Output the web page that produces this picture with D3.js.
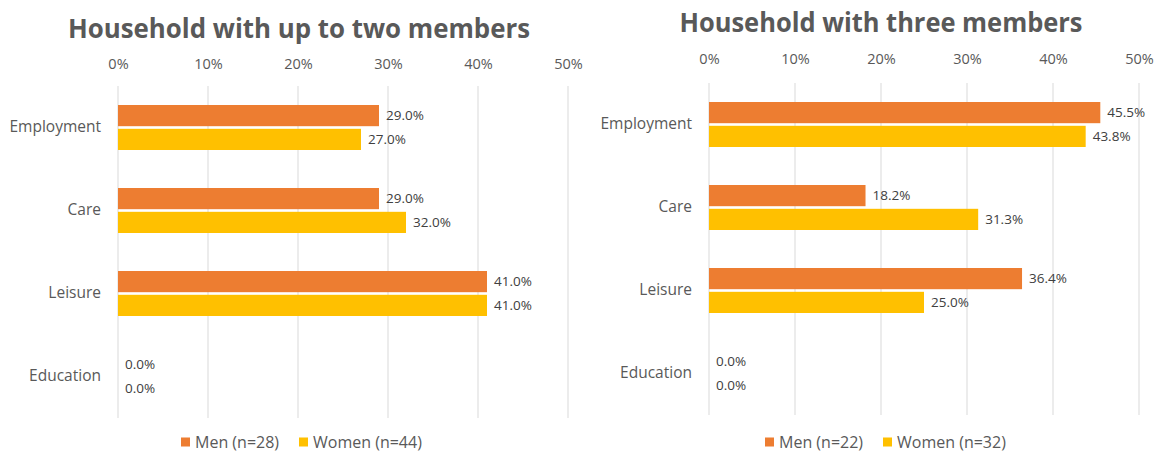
<!DOCTYPE html>
<html>
<head>
<meta charset="utf-8">
<script src="https://cdn.jsdelivr.net/npm/d3@7"></script>
<style>
  html, body { margin: 0; padding: 0; background: #fff; }
  svg { display: block; font-family: "Open Sans", "Noto Sans", sans-serif; }
</style>
</head>
<body>
<svg id="chart" width="1161" height="452"></svg>
<script>
// Shared categories and axis ticks
const categories = ["Employment", "Care", "Leisure", "Education"];
const tickValues = [0, 10, 20, 30, 40, 50];
const seriesNames = ["Men", "Women"];
const seriesColors = ["#ED7D31", "#FFC000"];

// Households with up to two members
const titleTwo = "Household with up to two members";
const menTwo = [29.0, 29.0, 41.0, 0.0];
const womenTwo = [27.0, 32.0, 41.0, 0.0];
const legendTwo = ["Men (n=28)", "Women (n=44)"];

// Households with three members
const titleThree = "Household with three members";
const menThree = [45.5, 18.2, 36.4, 0.0];
const womenThree = [43.8, 31.3, 25.0, 0.0];
const legendThree = ["Men (n=22)", "Women (n=32)"];

const svg = d3.select("#chart");

function drawPanel(opt) {
  const g = svg.append("g");
  const x = d3.scaleLinear().domain([0, 50]).range([opt.x0, opt.x1]);
  const y = d3.scaleBand().domain(categories).range([opt.top, opt.bottom]);
  const inner = d3.scaleBand().domain(seriesNames).range([y.bandwidth() / 2 - 22.5, y.bandwidth() / 2 + 22.5]).paddingInner(0.11);

  // Title
  g.append("text")
    .attr("x", opt.titleX).attr("y", opt.titleY)
    .attr("text-anchor", "middle")
    .attr("font-size", 26).attr("font-weight", 700)
    .attr("fill", "#595959")
    .attr("textLength", opt.titleLen).attr("lengthAdjust", "spacingAndGlyphs")
    .text(opt.title);

  // Vertical gridlines
  g.append("g").selectAll("line").data(tickValues).join("line")
    .attr("x1", d => x(d)).attr("x2", d => x(d))
    .attr("y1", opt.top).attr("y2", opt.bottom)
    .attr("stroke", "#D9D9D9").attr("stroke-width", 1);

  // Top axis labels
  const axis = d3.axisTop(x).tickValues(tickValues).tickFormat(d => d + "%").tickSize(0).tickPadding(0);
  const ag = g.append("g").attr("transform", `translate(0,${opt.axisY})`).call(axis);
  ag.select(".domain").remove();
  ag.selectAll("text").attr("font-size", 14.5).attr("fill", "#595959")
    .attr("font-family", "Open Sans, sans-serif").attr("dy", "0.35em");

  // Category labels
  const yAxis = d3.axisLeft(y).tickSize(0).tickPadding(0);
  const yg = g.append("g").attr("transform", `translate(${opt.labelX},0)`).call(yAxis);
  yg.select(".domain").remove();
  yg.selectAll("text").attr("font-size", 15.5).attr("fill", "#595959")
    .attr("font-family", "Open Sans, sans-serif");

  // Bars and value labels
  const rows = categories.map((c, i) => [
    { cat: c, s: "Men", v: opt.men[i], color: seriesColors[0] },
    { cat: c, s: "Women", v: opt.women[i], color: seriesColors[1] }
  ]).flat();

  g.append("g").selectAll("rect").data(rows).join("rect")
    .attr("x", x(0))
    .attr("y", d => y(d.cat) + inner(d.s))
    .attr("width", d => x(d.v) - x(0))
    .attr("height", inner.bandwidth())
    .attr("fill", d => d.color);

  g.append("g").selectAll("text").data(rows).join("text")
    .attr("x", d => x(d.v) + 7)
    .attr("y", d => y(d.cat) + inner(d.s) + inner.bandwidth() / 2)
    .attr("dy", "0.35em")
    .attr("font-size", 13.5).attr("fill", "#404040")
    .text(d => d.v.toFixed(1) + "%");

  // Legend
  const lg = g.append("g").attr("transform", `translate(0,${opt.legendY})`);
  opt.legend.forEach((name, i) => {
    const lx = opt.legendX[i];
    lg.append("rect").attr("x", lx).attr("y", -4.5).attr("width", 9).attr("height", 9).attr("fill", seriesColors[i]);
    lg.append("text").attr("x", lx + 14).attr("y", 0).attr("dy", "0.35em")
      .attr("font-size", 16).attr("fill", "#595959").text(name);
  });
}

drawPanel({
  title: titleTwo, titleX: 299, titleY: 38, titleLen: 462,
  men: menTwo, women: womenTwo, legend: legendTwo,
  x0: 118, x1: 568, top: 86, bottom: 418, axisY: 64, labelX: 101,
  legendY: 442, legendX: [181, 299]
});

drawPanel({
  title: titleThree, titleX: 881, titleY: 32, titleLen: 403,
  men: menThree, women: womenThree, legend: legendThree,
  x0: 709, x1: 1139, top: 83, bottom: 415, axisY: 59, labelX: 692,
  legendY: 442, legendX: [765, 883]
});
</script>
</body>
</html>
